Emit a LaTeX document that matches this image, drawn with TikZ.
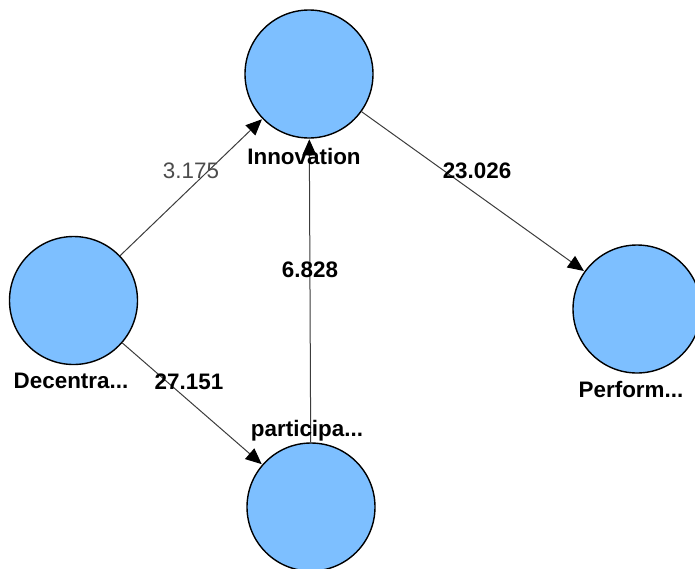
\documentclass[tikz,border=0pt]{standalone}
\usepackage{fontspec}
\setmainfont{Liberation Sans}
\usetikzlibrary{arrows.meta}
\definecolor{cfill}{RGB}{125,191,255}
\definecolor{cline}{RGB}{60,60,60}
\tikzset{
  x=0.5pt, y=-0.5pt,
  lv/.style={circle, draw=black, line width=0.7pt, fill=cfill, minimum size=64pt, inner sep=0pt},
  nlabel/.style={font=\bfseries\fontsize{11.2}{13}\selectfont, inner sep=0pt},
  elabel/.style={font=\bfseries\fontsize{11.2}{13}\selectfont, inner sep=0pt},
  plabel/.style={font=\fontsize{11.2}{13}\selectfont, text=black!70, inner sep=0pt},
  path/.style={draw=cline, line width=0.5pt, -{Triangle[length=8pt,width=7pt,color=black]}, shorten >=0.3pt}
}
\begin{document}
\begin{tikzpicture}
\useasboundingbox (0,0) rectangle (695,568);
\clip (0,0) rectangle (695,568);
\node[lv] (inn) at (309,74) {};
\node[lv] (dec) at (73.5,300.5) {};
\node[lv] (perf) at (637,309) {};
\node[lv] (part) at (311,507) {};
\draw[path] (dec) -- (inn);
\draw[path] (dec) -- (part);
\draw[path] (part) -- (inn);
\draw[path] (inn) -- (perf);
\node[nlabel] (linn) at (304,156) {Innovation};
\node[nlabel] (ldec) at (71,381) {Decentra...};
\node[nlabel] (lperf) at (631,389) {Perform...};
\node[nlabel] (lpart) at (307,431) {participa...};
\node[plabel] (e1) at (191,171) {3.175};
\node[elabel] (e2) at (477,171) {23.026};
\node[elabel] (e3) at (310,270) {6.828};
\node[elabel] (e4) at (189,382) {27.151};
\end{tikzpicture}
\end{document}
